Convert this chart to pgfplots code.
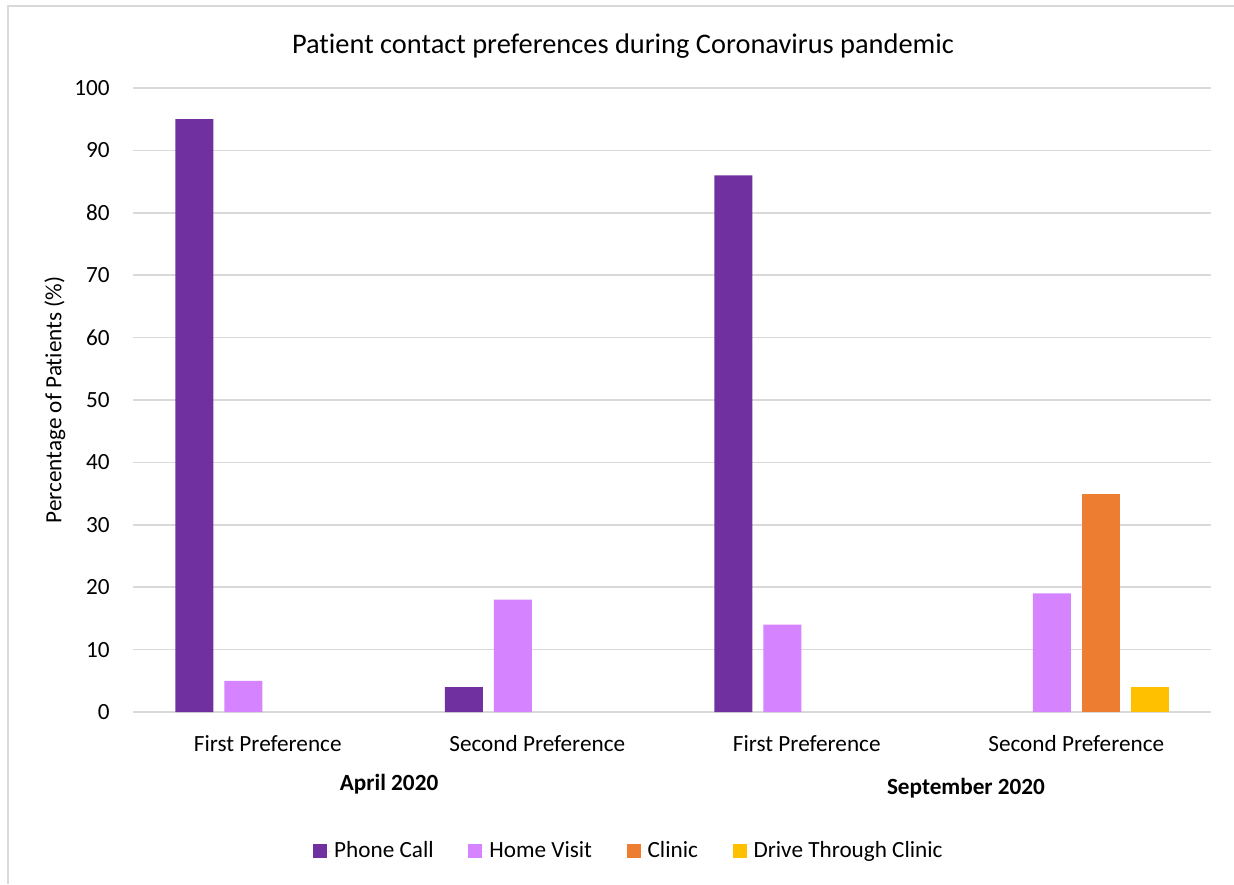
\documentclass[border=0pt]{standalone}
\usepackage{pgfplots}
\pgfplotsset{compat=1.18}
\usepackage{fontspec}
\setmainfont{Carlito}[Ligatures=NoCommon]
\definecolor{phone}{HTML}{7030A0}
\definecolor{home}{HTML}{D683FF}
\definecolor{clinic}{HTML}{ED7D31}
\definecolor{drive}{HTML}{FFC000}
\definecolor{gridgray}{HTML}{D9D9D9}
\begin{document}
\begin{tikzpicture}[x=0.5pt,y=-0.5pt]
\useasboundingbox (0,0) rectangle (1234,884);
\draw[gridgray, line width=1.2pt] (8,884) -- (8,6) -- (1234,6);
\begin{axis}[
  at={(66.5pt,-356pt)}, anchor=south west,
  scale only axis, width=539pt, height=312pt,
  xmin=-0.5, xmax=3.5, ymin=0, ymax=100,
  ybar=5.5pt, bar width=19pt,
  xtick={0,1,2,3},
  xticklabels={First Preference, Second Preference, First Preference, Second Preference},
  ytick={0,10,...,100},
  /pgf/number format/assume math mode=true,
  major tick length=0pt,
  axis lines=left,
  axis line style={draw=none,-},
  ymajorgrids, grid style={gridgray, line width=0.75pt},
  tick label style={font=\fontsize{11.6}{13}\selectfont},
  xticklabel style={anchor=base, yshift=-19.5pt},
  yticklabel style={anchor=east, inner sep=0pt, xshift=-11.5pt},
  ylabel={Percentage of Patients (\%)},
  ylabel style={at={(axis description cs:-0.0724,0.5)}, anchor=center, font=\fontsize{11.6}{13}\selectfont},
  title={Patient contact preferences during Coronavirus pandemic},
  title style={at={(axis description cs:0.5,1)}, anchor=base, xshift=-24.5pt, yshift=11.5pt, font=\fontsize{14.2}{16}\selectfont},
  legend style={at={(axis description cs:0.4605,-0.2228)}, anchor=center, draw=none, font=\fontsize{11.6}{13}\selectfont,
    legend columns=4, /tikz/every even column/.append style={column sep=15.8pt},
    nodes={inner sep=1.5pt}},
  legend image code/.code={\fill[#1] (0pt,-3.5pt) rectangle (7pt,3.5pt); \path (0pt,0pt) -- (9pt,0pt);},
  clip=false,
]
\addplot[fill=phone, draw=none] coordinates {(0,95) (1,4) (2,86)};
\addplot[fill=home, draw=none] coordinates {(0,5) (1,18) (2,14) (3,19)};
\addplot[fill=clinic, draw=none] coordinates {(3,35)};
\addplot[fill=drive, draw=none] coordinates {(3,4)};
\legend{Phone Call, Home Visit, Clinic, Drive Through Clinic}
\node[font=\bfseries\fontsize{11.6}{13}\selectfont, anchor=base] at (axis description cs:0.2375,-0.125) {April 2020};
\node[font=\bfseries\fontsize{11.6}{13}\selectfont, anchor=base] at (axis description cs:0.7727,-0.1314) {September 2020};
\end{axis}
\end{tikzpicture}
\end{document}
